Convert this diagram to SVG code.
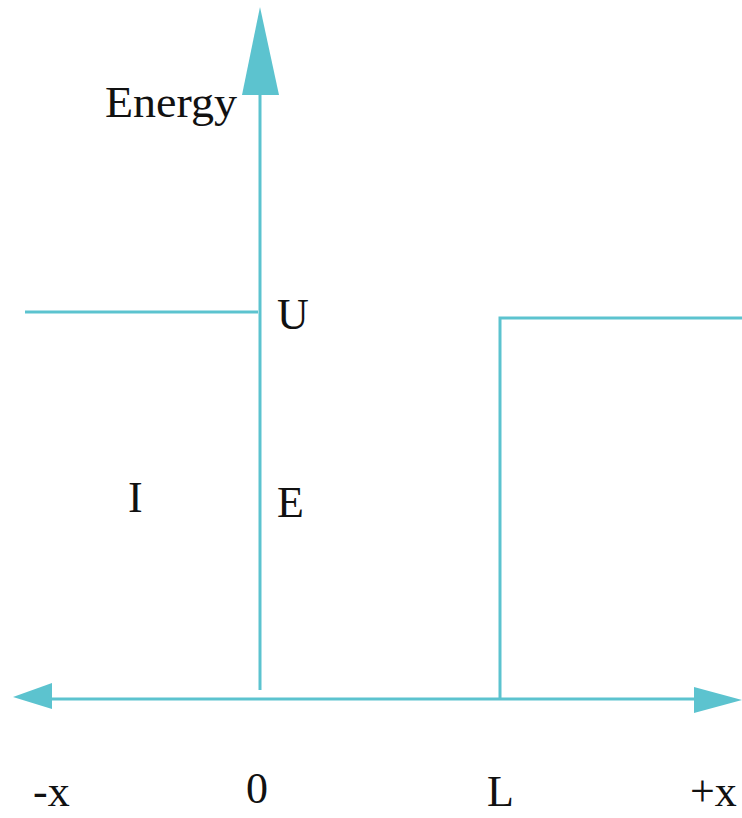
<svg xmlns="http://www.w3.org/2000/svg" width="742" height="818" viewBox="0 0 742 818">
<style>
.ln{stroke:#5cc3cf;stroke-width:3;fill:none}
.ah{fill:#5cc3cf}
text{font-family:"Liberation Serif","Times New Roman",serif;font-size:44px;fill:#111}
</style>
<rect width="742" height="818" fill="#fff"/>
<g id="connectors">
<line class="ln" x1="260" y1="92" x2="260" y2="690"/>
<polygon class="ah" points="260,7 279,95 242,95"/>
<line class="ln" x1="45" y1="699" x2="700" y2="699"/>
<polygon class="ah" points="13,697 52,683 52,709"/>
<polygon class="ah" points="742,700 694,687 694,713"/>
<polyline class="ln" points="25,312 258,312"/>
<polyline class="ln" points="500,699 500,318 742,318"/>
</g>
<g id="labels">
<text x="105" y="117" textLength="132" lengthAdjust="spacingAndGlyphs">Energy</text>
<text x="277" y="329">U</text>
<text x="128" y="512">I</text>
<text x="277" y="517">E</text>
<text x="33" y="806">-x</text>
<text x="246" y="803">0</text>
<text x="487" y="806">L</text>
<text x="690" y="806">+x</text>
</g>
</svg>
